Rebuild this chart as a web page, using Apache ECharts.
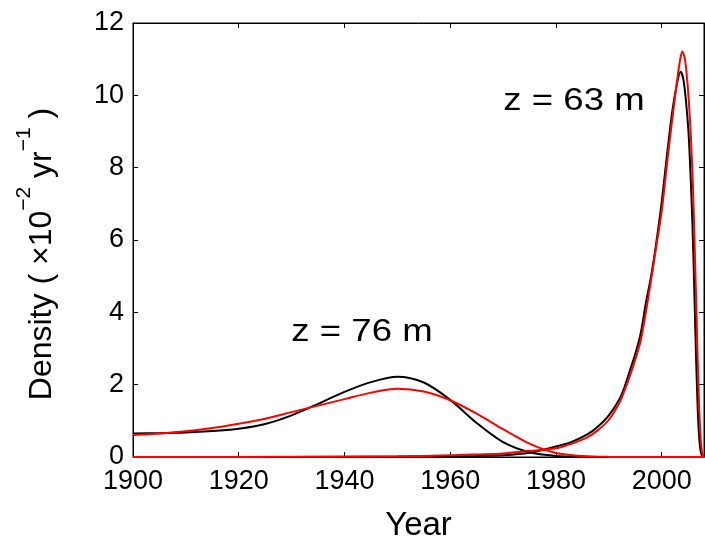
<!DOCTYPE html>
<html>
<head>
<meta charset="utf-8">
<script src="https://cdn.jsdelivr.net/npm/echarts@6/dist/echarts.min.js"></script>
<style>html,body{margin:0;padding:0;background:#fff;}#c{width:705px;height:547px;}</style>
</head>
<body>
<div id="c"></div>
<script>
// Tick settings
var xTicks = [1900, 1920, 1940, 1960, 1980, 2000];
var yTicks = [0, 2, 4, 6, 8, 10, 12];

// z = 76 m, black
var yearsBlack76 = [1900,1905,1910,1915,1920,1925,1930,1935,1940,1945,1950,1955,1960,1965,1970,1975,1980,1985,1990,2000,2008];
var black76      = [0.65,0.66,0.68,0.72,0.78,0.91,1.15,1.47,1.80,2.07,2.22,2.06,1.58,0.94,0.41,0.13,0.03,0.005,0,0,0];

// z = 76 m, red
var yearsRed76 = [1900,1905,1910,1915,1920,1925,1930,1935,1940,1945,1950,1955,1960,1965,1970,1975,1980,1985,1990,1995,2008];
var red76      = [0.61,0.65,0.71,0.80,0.92,1.06,1.24,1.42,1.60,1.78,1.89,1.81,1.57,1.20,0.77,0.37,0.11,0.025,0.003,0,0];

// z = 63 m, black
var yearsBlack63 = [1900,1920,1940,1950,1960,1965,1970,1975,1980,1983,1986,1988,1990,1992,1993,1994,1995,1996,1997,1998,1999,2000,2001,2002,2003,2003.6,2004.2,2005.0,2005.4,2005.8,2006.1,2006.4,2006.7,2007.0,2007.3,2007.6,2008];
var black63      = [0,0.001,0.005,0.01,0.02,0.03,0.05,0.12,0.29,0.42,0.63,0.85,1.15,1.6,1.95,2.4,2.85,3.4,4.25,5.0,5.95,7.05,8.35,9.55,10.4,10.65,10.35,9.13,8.0,6.5,5.0,3.3,1.8,0.75,0.22,0.04,0];

// z = 63 m, red
var yearsRed63 = [1900,1920,1940,1950,1960,1965,1970,1975,1980,1983,1986,1988,1990,1992,1993,1994,1995,1996,1997,1998,1999,2000,2001,2002,2003,2003.5,2003.9,2004.4,2005.0,2005.5,2005.9,2006.2,2006.5,2006.8,2007.1,2007.4,2007.7,2008];
var red63      = [0,0.003,0.01,0.02,0.045,0.07,0.1,0.17,0.24,0.37,0.55,0.75,1.03,1.5,1.85,2.25,2.7,3.2,4.0,4.9,5.85,6.8,8.1,9.35,10.5,11.0,11.21,11.0,10.1,8.9,7.5,6.0,4.4,2.7,1.3,0.45,0.08,0];

var FONT = 'Liberation Sans, Arial, Helvetica, sans-serif';

function pairs(xs, ys) { return xs.map(function (x, i) { return [x, ys[i]]; }); }

var chart = echarts.init(document.getElementById('c'), null, {renderer: 'canvas'});

function lineSeries(name, xs, ys, color) {
  return {
    name: name, type: 'line', xAxisIndex: 0, yAxisIndex: 0,
    data: pairs(xs, ys), showSymbol: false, smooth: 0.3,
    lineStyle: {color: color, width: 2}, itemStyle: {color: color},
    silent: true, animation: false, clip: true
  };
}

var axisCommonX = {
  type: 'value', min: xTicks[0], max: 2008, interval: 20,
  splitLine: {show: false},
  axisLine: {show: true, onZero: false, lineStyle: {color: '#000', width: 1}},
  axisTick: {show: true, inside: true, length: 5, lineStyle: {color: '#000'}}
};
var axisCommonY = {
  type: 'value', min: yTicks[0], max: yTicks[yTicks.length - 1], interval: 2,
  splitLine: {show: false},
  axisLine: {show: true, onZero: false, lineStyle: {color: '#000', width: 1}},
  axisTick: {show: true, inside: true, length: 5, lineStyle: {color: '#000'}}
};

chart.setOption({
  backgroundColor: '#fff',
  animation: false,
  grid: {left: 133, right: 1, top: 23, bottom: 77, containLabel: false,
    show: true, borderColor: '#000', borderWidth: 1, backgroundColor: 'transparent'},
  xAxis: [
    Object.assign({}, axisCommonX, {
      position: 'bottom',
      axisLabel: {show: true, color: '#000', fontFamily: FONT, fontSize: 27, margin: 11, showMaxLabel: false,
        formatter: function (v) { return xTicks.indexOf(v) >= 0 ? String(v) : ''; }},
      name: 'Year', nameLocation: 'middle', nameGap: 52,
      nameTextStyle: {color: '#000', fontFamily: FONT, fontSize: 33}
    }),
    Object.assign({}, axisCommonX, {position: 'top', axisLabel: {show: false}})
  ],
  yAxis: [
    Object.assign({}, axisCommonY, {
      position: 'left',
      axisLabel: {show: true, color: '#000', fontFamily: FONT, fontSize: 27, margin: 9,
        formatter: function (v) { return yTicks.indexOf(v) >= 0 ? String(v) : ''; }}
    }),
    Object.assign({}, axisCommonY, {position: 'right', axisLabel: {show: false}})
  ],
  graphic: [
    {
      type: 'text', x: 36, y: 254, rotation: Math.PI / 2,
      style: {
        text: '{n|Density ( \u00d710}{s|\u22122}{n| yr}{s|\u22121}{n| )}',
        align: 'center', verticalAlign: 'middle', fill: '#000',
        rich: {
          n: {fontFamily: FONT, fontSize: 32, lineHeight: 44, verticalAlign: 'bottom', fill: '#000'},
          s: {fontFamily: FONT, fontSize: 21, lineHeight: 22, verticalAlign: 'top', fill: '#000'}
        }
      }
    },
    {
      type: 'text', x: 362, y: 332, scaleX: 1.18,
      style: {text: 'z = 76 m', fontFamily: FONT, fontSize: 31, fill: '#000', align: 'center', verticalAlign: 'middle'}
    },
    {
      type: 'text', x: 574, y: 101, scaleX: 1.18,
      style: {text: 'z = 63 m', fontFamily: FONT, fontSize: 31, fill: '#000', align: 'center', verticalAlign: 'middle'}
    }
  ],
  series: [
    lineSeries('z76 black', yearsBlack76, black76, '#000000'),
    lineSeries('z63 black', yearsBlack63, black63, '#000000'),
    lineSeries('z76 red', yearsRed76, red76, '#ff0000'),
    lineSeries('z63 red', yearsRed63, red63, '#ff0000')
  ]
});
</script>
</body>
</html>
